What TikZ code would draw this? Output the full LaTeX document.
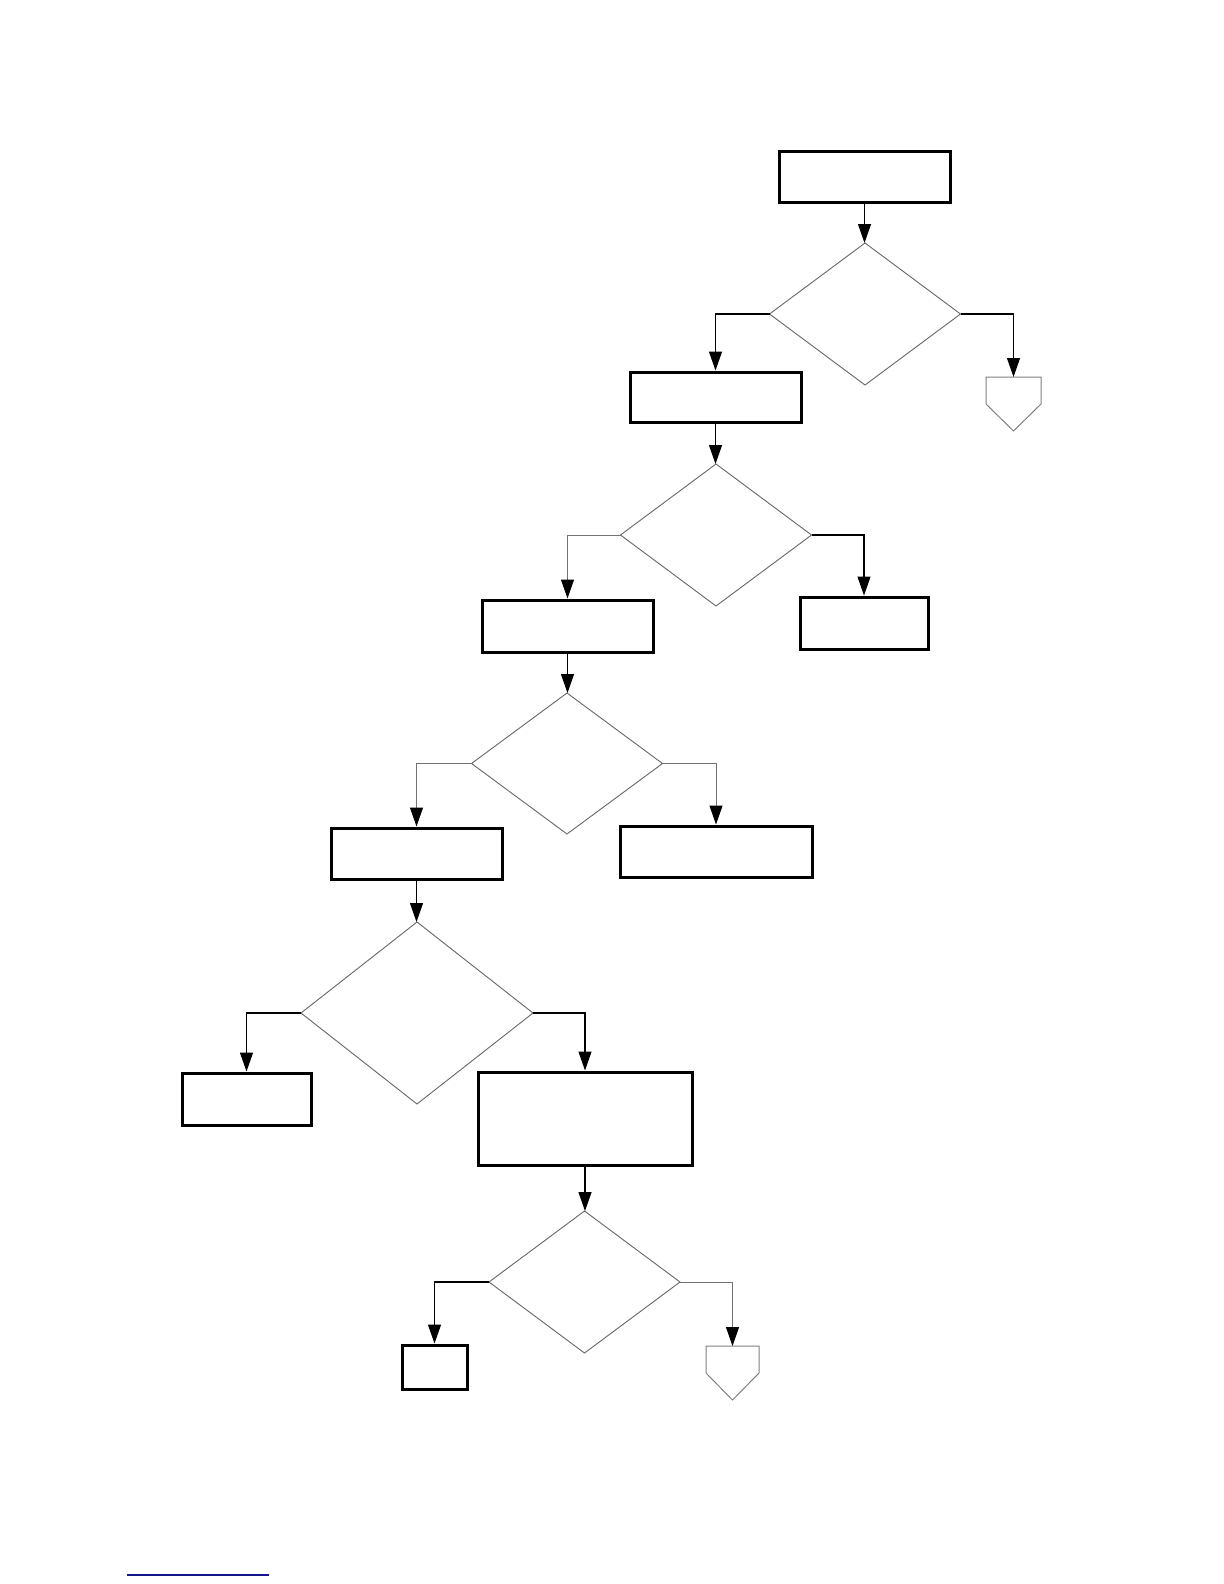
\documentclass[tikz,border=0pt]{standalone}
\usetikzlibrary{arrows.meta,shapes.geometric}
\definecolor{linkblue}{RGB}{20,20,140}
\begin{document}
\begin{tikzpicture}[x=0.5pt,y=-0.5pt,
  box/.style={draw=black,line width=1.5pt,rectangle,inner sep=0pt,fill=white},
  dec/.style={draw=black!60,line width=0.45pt,diamond,inner sep=0pt,outer sep=0pt,minimum width=95.5pt,minimum height=71pt},
  offpg/.style={draw=none,rectangle,inner sep=0pt,outer sep=0pt,minimum width=27.5pt,minimum height=13.5pt},
  offline/.style={draw=black!50,line width=0.5pt},
  conn/.style={draw=black,line width=0.6pt,-{Triangle[length=9.5pt,width=6.5pt,color=black]}},
  connlight/.style={draw=black!55,line width=0.5pt,-{Triangle[length=9.5pt,width=6.5pt,color=black]}}
]
\useasboundingbox (0,0) rectangle (1224,1584);
% boxes and decisions
\node[box,minimum width=85.5pt,minimum height=25.5pt] (b1) at (864.5,176.5) {};
\node[dec] (d1) at (865,314) {};
\node[box,minimum width=85.5pt,minimum height=25pt] (b2) at (715.5,397) {};
\node[offpg] (o1) at (1013.5,390.5) {};
\node[dec] (d2) at (716,535) {};
\node[box,minimum width=85.5pt,minimum height=26pt] (b3) at (567.5,626) {};
\node[box,minimum width=64pt,minimum height=26pt] (b4) at (864,623) {};
\node[dec,minimum height=70.5pt] (d3) at (567,763.5) {};
\node[box,minimum width=96pt,minimum height=25.5pt] (b5) at (716,851.5) {};
\node[box,minimum width=85.5pt,minimum height=25.5pt] (b6) at (416.5,853.5) {};
\node[dec,minimum width=116pt,minimum height=91pt] (d4) at (417,1013) {};
\node[box,minimum width=64.5pt,minimum height=26pt] (b7) at (246.5,1099) {};
\node[box,minimum width=107pt,minimum height=46.5pt] (b8) at (585,1118.5) {};
\node[dec] (d5) at (584.5,1282) {};
\node[box,minimum width=32.5pt,minimum height=22pt] (b9) at (434.5,1367) {};
\node[offpg,minimum width=26.5pt] (o2) at (732.5,1359.5) {};
% off-page connectors
\draw[offline] (o1.north west) -- (o1.north east) -- (o1.south east) -- ([yshift=-13.5pt]o1.south) -- (o1.south west) -- cycle;
\draw[offline] (o2.north west) -- (o2.north east) -- (o2.south east) -- ([yshift=-13.5pt]o2.south) -- (o2.south west) -- cycle;
% connectors
\draw[conn] (b1.south) -- (b1.south |- d1.north);
\draw[conn] (d1.west) -| (b2.north);
\draw[conn] (d1.east) -| (o1.north);
\draw[conn] (b2.south) -- (b2.south |- d2.north);
\draw[connlight] (d2.west) -| (b3.north);
\draw[conn] (d2.east) -| (b4.north);
\draw[conn] (b3.south) -- (b3.south |- d3.north);
\draw[connlight] (d3.west) -| (b6.north);
\draw[connlight] (d3.east) -| (b5.north);
\draw[conn] (b6.south) -- (b6.south |- d4.north);
\draw[conn] (d4.west) -| (b7.north);
\draw[conn] (d4.east) -| (b8.north);
\draw[conn] (b8.south) -- (b8.south |- d5.north);
\draw[conn] (d5.west) -| (b9.north);
\draw[connlight] (d5.east) -| (o2.north);
% footnote rule
\coordinate (f1) at (127,1575);
\coordinate (f2) at (269,1575);
\draw[linkblue,line width=0.65pt] (f1) -- (f2);
\end{tikzpicture}
\end{document}
